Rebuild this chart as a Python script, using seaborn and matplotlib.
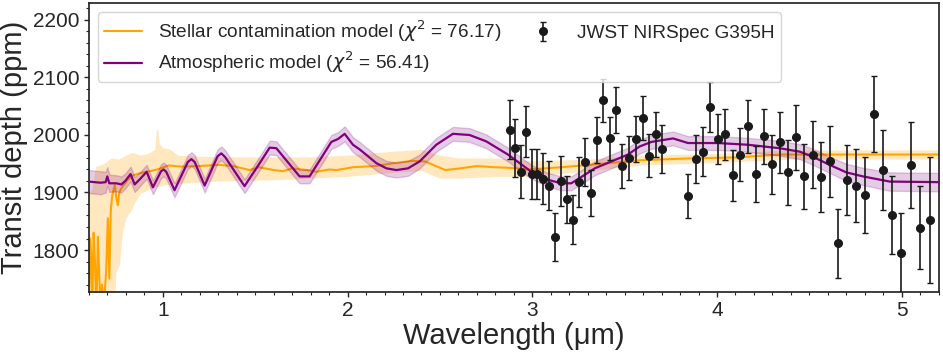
import matplotlib
matplotlib.use("Agg")
import matplotlib.pyplot as plt
from matplotlib.ticker import MultipleLocator
import numpy as np
import seaborn as sns

# ---------------- observed spectrum (JWST NIRSpec G395H) ----------------
wl_obs = [2.877, 2.908, 2.937, 2.968, 2.997, 3.027, 3.060, 3.089, 3.121, 3.154,
          3.186, 3.218, 3.251, 3.283, 3.316, 3.350, 3.385, 3.419, 3.453, 3.488,
          3.524, 3.560, 3.598, 3.632, 3.670, 3.704, 3.845, 3.885, 3.924, 3.964,
          4.004, 4.043, 4.085, 4.127, 4.170, 4.211, 4.253, 4.296, 4.339, 4.384,
          4.428, 4.473, 4.518, 4.563, 4.610, 4.657, 4.704, 4.753, 4.801, 4.849,
          4.897, 4.948, 4.998, 5.049, 5.099, 5.152]
depth_obs = [2009, 1977, 1936, 2006, 1932, 1932, 1924, 1912, 1823, 1920,
             1888, 1853, 1918, 1953, 1899, 1991, 2060, 1994, 2044, 1946,
             1960, 1993, 2030, 1964, 2001, 1976, 1894, 1958, 1971, 2049,
             1993, 2001, 1930, 1966, 2015, 1932, 1998, 1949, 1987, 1935,
             1996, 1928, 1966, 1927, 1954, 1812, 1921, 1912, 1895, 2037,
             1939, 1861, 1794, 1948, 1839, 1852]
err_obs = [51, 50, 46, 45, 44, 43, 44, 43, 42, 43,
           41, 43, 43, 41, 40, 40, 38, 38, 40, 39,
           39, 40, 38, 37, 39, 42, 39, 42, 43, 43,
           44, 44, 44, 46, 46, 48, 48, 51, 53, 57,
           57, 56, 58, 61, 61, 60, 61, 63, 66, 66,
           69, 68, 70, 75, 72, 109]

# ---------------- stellar contamination model ----------------
stellar_wl = [0.600, 0.606, 0.612, 0.618, 0.625, 0.632, 0.640, 0.648, 0.655, 0.662,
              0.670, 0.680, 0.693, 0.702, 0.710, 0.718, 0.726, 0.733, 0.740, 0.748,
              0.756, 0.764, 0.775, 0.790, 0.810, 0.840, 0.880, 0.930, 0.980, 1.030,
              1.100, 1.200, 1.300, 1.380, 1.470, 1.520, 1.600, 1.650, 1.700, 1.780,
              1.830, 1.900, 1.940, 2.030, 2.150, 2.250, 2.350, 2.420, 2.470, 2.530,
              2.610, 2.700, 2.790, 2.870, 2.980, 3.160, 3.340, 3.580, 3.830, 4.100,
              4.350, 4.520, 5.200]
stellar_depth = [1700, 1820, 1790, 1700, 1830, 1780, 1690, 1823, 1760, 1700,
                 1740, 1700, 1765, 1855, 1750, 1870, 1895, 1905, 1913, 1890,
                 1878, 1900, 1907, 1914, 1922, 1930, 1934, 1937, 1941, 1947,
                 1945, 1946, 1948, 1946, 1939, 1944, 1939, 1937, 1942, 1939,
                 1936, 1940, 1939, 1944, 1946, 1951, 1955, 1954, 1947, 1939,
                 1942, 1946, 1944, 1943, 1940, 1944, 1949, 1956, 1959, 1961,
                 1966, 1966, 1966]

stellar_hi_wl = [0.600, 0.615, 0.635, 0.680, 0.720, 0.760, 0.830, 0.880, 0.920, 0.955,
                 0.965, 0.972, 0.980, 1.000, 1.040, 1.080, 1.200, 1.400, 1.600, 1.800,
                 2.000, 2.250, 2.400, 2.500, 2.600, 2.800, 3.000, 3.300, 3.600, 4.000,
                 4.400, 5.200]
stellar_hi = [1900, 1905, 1945, 1950, 1960, 1958, 1970, 1965, 1968, 1975,
              2008, 2012, 1985, 1978, 1975, 1965, 1963, 1962, 1962, 1962,
              1965, 1972, 1975, 1965, 1960, 1960, 1955, 1958, 1965, 1968,
              1974, 1974]
stellar_lo_wl = [0.600, 0.735, 0.745, 0.765, 0.780, 0.800, 0.830, 0.850, 0.880, 0.920,
                 0.960, 1.050, 1.300, 1.600, 1.800, 2.000, 2.250, 2.400, 2.500, 2.600,
                 2.800, 3.000, 3.300, 3.600, 4.000, 4.400, 5.200]
stellar_lo = [1650, 1650, 1760, 1775, 1830, 1856, 1870, 1884, 1899, 1905,
              1910, 1915, 1920, 1922, 1925, 1928, 1935, 1938, 1925, 1925,
              1928, 1928, 1938, 1948, 1952, 1958, 1958]

# ---------------- atmospheric model ----------------
atm_wl = [0.598, 0.663, 0.690, 0.699, 0.710, 0.748, 0.775, 0.796, 0.825, 0.847,
          0.875, 0.912, 0.946, 0.990, 1.004, 1.018, 1.063, 1.135, 1.154, 1.172,
          1.226, 1.296, 1.316, 1.336, 1.442, 1.524, 1.578, 1.614, 1.740, 1.794,
          1.912, 1.948, 1.984, 2.029, 2.065, 2.156, 2.210, 2.264, 2.327, 2.390,
          2.480, 2.570, 2.660, 2.750, 2.868, 2.995, 3.085, 3.157, 3.211, 3.266,
          3.338, 3.428, 3.518, 3.581, 3.645, 3.762, 3.843, 4.005, 4.168, 4.339,
          4.448, 4.520, 4.610, 4.700, 4.790, 4.935, 5.200]
atm_depth = [1919, 1917, 1918, 1928, 1916, 1916, 1914, 1920, 1932, 1914,
             1923, 1936, 1909, 1937, 1940, 1936, 1904, 1953, 1958, 1953,
             1912, 1963, 1968, 1962, 1911, 1951, 1978, 1977, 1928, 1928,
             1988, 1993, 2002, 1983, 1975, 1951, 1942, 1939, 1942, 1954,
             1983, 2002, 2000, 1989, 1966, 1936, 1922, 1916, 1916, 1927,
             1942, 1954, 1966, 1980, 1988, 1994, 1986, 1986, 1983, 1977,
             1971, 1962, 1948, 1935, 1928, 1919, 1918]
atm_err = [20, 20, 18, 16, 15, 14, 14, 13, 13, 13,
           12, 12, 12, 12, 12, 12, 12, 12, 12, 12,
           12, 12, 12, 12, 12, 12, 12, 12, 12, 12,
           12, 12, 13, 13, 13, 13, 13, 13, 13, 12,
           12, 12, 12, 12, 12, 12, 12, 12, 12, 12,
           12, 12, 12, 12, 12, 12, 12, 12, 12, 13,
           13, 14, 14, 15, 15, 16, 16]

label_stellar = r"Stellar contamination model ($\chi^2$ = 76.17)"
label_atm = r"Atmospheric model ($\chi^2$ = 56.41)"
label_obs = "JWST NIRSpec G395H"

sns.set_theme(style="ticks")
plt.rcParams['font.family'] = ['Liberation Sans', 'DejaVu Sans']

fig = plt.figure(figsize=(9.43, 3.54), dpi=100)
ax = fig.add_axes([0.0944, 0.176, 0.901, 0.8147])

# stellar contamination band and line
grid = np.union1d(np.union1d(stellar_hi_wl, stellar_lo_wl), stellar_wl)
ax.fill_between(grid, np.interp(grid, stellar_lo_wl, stellar_lo),
                np.interp(grid, stellar_hi_wl, stellar_hi),
                color='orange', alpha=0.25, lw=0, zorder=1)
sns.lineplot(x=stellar_wl, y=stellar_depth, color='orange', lw=1.5, ax=ax,
             label=label_stellar, zorder=2)

# atmospheric band and line
a = np.array(atm_depth, dtype=float)
e = np.array(atm_err, dtype=float)
ax.fill_between(atm_wl, a - e, a + e, color='purple', alpha=0.2, lw=1, zorder=3)
sns.lineplot(x=atm_wl, y=atm_depth, color='purple', lw=1.6, ax=ax,
             label=label_atm, zorder=4)

# data
ax.errorbar(wl_obs, depth_obs, yerr=err_obs, fmt='o', color='k', ms=5.5,
            ecolor='0.1', elinewidth=1.2, capsize=2, capthick=1,
            label=label_obs, zorder=5)

ax.set_xlim(0.6, 5.2)
ax.set_ylim(1727.5, 2229)
ax.xaxis.set_major_locator(MultipleLocator(1))
ax.xaxis.set_minor_locator(MultipleLocator(0.1))
ax.yaxis.set_major_locator(MultipleLocator(100))
ax.yaxis.set_minor_locator(MultipleLocator(20))
ax.tick_params(axis='both', which='major', labelsize=15, length=3.5, width=1)
ax.tick_params(axis='both', which='minor', length=2, width=0.8)
ax.set_xlabel("Wavelength (μm)", fontsize=21, labelpad=1)
ax.set_ylabel("Transit depth (ppm)", fontsize=21, labelpad=3)
for s in ax.spines.values():
    s.set_visible(True)

ax.legend(loc='upper left', ncol=2, fontsize=13.7, columnspacing=1.2,
          frameon=True, handlelength=2.0, labelspacing=0.3,
          borderaxespad=0.45, borderpad=0.35)

fig.savefig("out.png", dpi=100)
